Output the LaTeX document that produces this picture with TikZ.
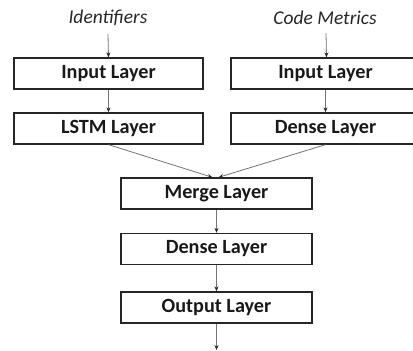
\documentclass[tikz,border=0pt]{standalone}
\usepackage{fontspec}
\setmainfont{Carlito}
\usetikzlibrary{arrows.meta}
\begin{document}
\begin{tikzpicture}[x=1pt,y=-1pt,
  layer/.style={draw=black!85,line width=1.3pt,minimum width=189pt,minimum height=31pt,inner sep=0pt,
    font=\fontsize{20.2}{23}\selectfont\bfseries,text=black!90},
  inlabel/.style={font=\fontsize{19.5}{22}\selectfont\itshape,text=black!85,inner sep=0pt},
  conn/.style={draw=black!55,line width=0.8pt,-{Stealth[length=5pt,width=4pt,black!85]}}]
\useasboundingbox (0,0) rectangle (413,351);
\clip (0,0) rectangle (413,351);
\node[inlabel] (id) at (108,18) {Identifiers};
\node[inlabel] (cm) at (325,18) {Code Metrics};
\node[layer] (in1) at (108.5,73.5) {Input Layer};
\node[layer] (in2) at (325.5,73.5) {Input Layer};
\node[layer] (lstm) at (108.5,128.5) {LSTM Layer};
\node[layer] (dn1) at (325.5,128.5) {Dense Layer};
\node[layer,minimum width=191pt] (merge) at (216.5,193.5) {Merge Layer};
\node[layer,minimum width=191pt] (dn2) at (216.5,249) {Dense Layer};
\node[layer,minimum width=191pt] (out) at (216.5,307.5) {Output Layer};
\coordinate (end) at (216.5,350);
\draw[conn] ([yshift=-8pt]id.south) -- (in1.north);
\draw[conn] ([yshift=-8pt,xshift=1pt]cm.south) -- ([xshift=1pt]in2.north);
\draw[conn] (in1) -- (lstm);
\draw[conn] (in2) -- (dn1);
\draw[conn] (lstm.south) -- ([xshift=-4pt]merge.north);
\draw[conn] (dn1.south) -- ([xshift=2pt]merge.north);
\draw[conn] (merge) -- (dn2);
\draw[conn] (dn2) -- (out);
\draw[conn] (out.south) -- (end);
\end{tikzpicture}
\end{document}
